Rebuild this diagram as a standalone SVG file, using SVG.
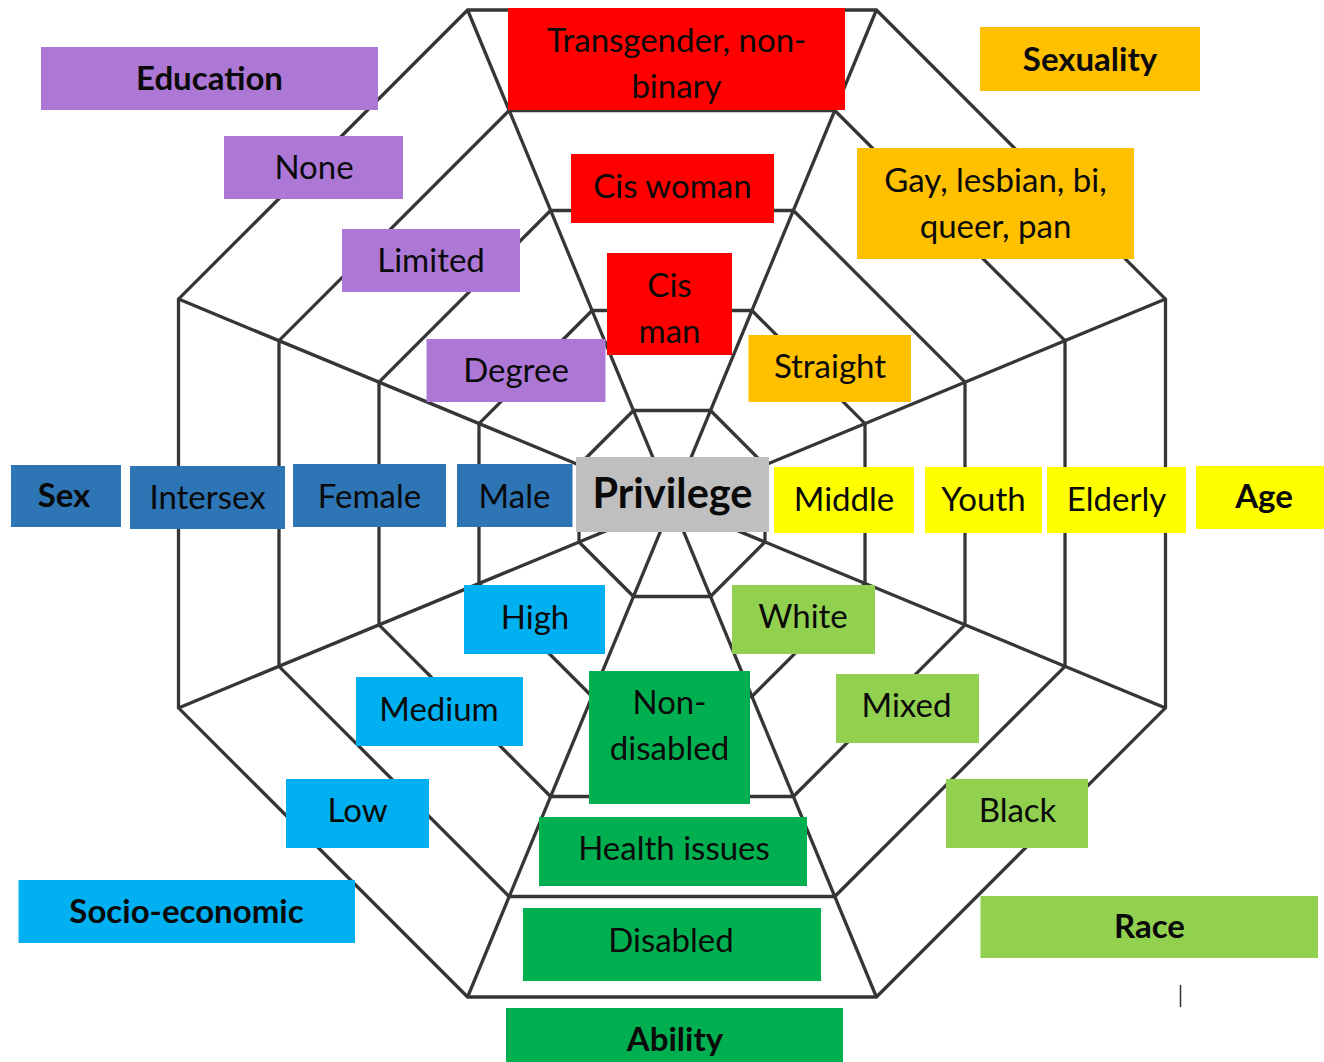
<svg xmlns="http://www.w3.org/2000/svg" width="1324" height="1062" viewBox="0 0 1324 1062">
  <style>
    .web { fill: none; stroke: #363636; stroke-width: 3.3; stroke-linejoin: miter; }
    .lbl { font-family: Lato, "Open Sans", "Liberation Sans", sans-serif; font-size: 33px; fill: #0a0a0a; text-anchor: middle; }
    .hd { font-weight: 700; }
    .edu { fill: #AD77D6; }
    .gen { fill: #FF0000; }
    .sexu { fill: #FFC000; }
    .sex { fill: #2E75B6; }
    .age { fill: #FFFF00; }
    .ses { fill: #00B0F0; }
    .race { fill: #92D050; }
    .abl { fill: #00B050; }
    .core { fill: #BFBFBF; }
  </style>
  <rect width="1324" height="1062" fill="#FFFFFF"/>

  <!-- concentric octagonal web and the four spokes through the centre -->
  <g id="connectors" class="web">
    <polygon points="633.5,410.5 710.5,410.5 765,465 765,542 710.5,596.5 633.5,596.5 579,542 579,465"/>
    <polygon points="592.1,310.5 751.9,310.5 865,423.6 865,583.4 751.9,696.5 592.1,696.5 479,583.4 479,423.6"/>
    <polygon points="550.6,210.5 793.4,210.5 965,382.1 965,624.9 793.4,796.5 550.6,796.5 379,624.9 379,382.1"/>
    <polygon points="509.2,110.5 834.8,110.5 1065,340.7 1065,666.3 834.8,896.5 509.2,896.5 279,666.3 279,340.7"/>
    <polygon points="467.6,10 876.4,10 1165.5,299.1 1165.5,707.9 876.4,997 467.6,997 178.5,707.9 178.5,299.1"/>
    <line x1="467.6" y1="10" x2="876.4" y2="997"/>
    <line x1="876.4" y1="10" x2="467.6" y2="997"/>
    <line x1="178.5" y1="299.1" x2="1165.5" y2="707.9"/>
    <line x1="178.5" y1="707.9" x2="1165.5" y2="299.1"/>
  </g>

  <!-- Education -->
  <g id="education">
    <rect class="edu" x="41" y="47" width="337" height="63"/>
    <text class="lbl hd" x="209.5" y="90">Education</text>
  </g>
  <g id="edu-none">
    <rect class="edu" x="224" y="136" width="179" height="63"/>
    <text class="lbl" x="314" y="179">None</text>
  </g>
  <g id="edu-limited">
    <rect class="edu" x="342" y="229" width="178" height="63"/>
    <text class="lbl" x="431" y="272">Limited</text>
  </g>
  <g id="edu-degree">
    <rect class="edu" x="426.5" y="339" width="179" height="63"/>
    <text class="lbl" x="516" y="382">Degree</text>
  </g>

  <!-- Gender -->
  <g id="gender-trans">
    <rect class="gen" x="508" y="8" width="337" height="102"/>
    <text class="lbl" x="676.5" y="52">Transgender, non-</text>
    <text class="lbl" x="676.5" y="98">binary</text>
  </g>
  <g id="gender-ciswoman">
    <rect class="gen" x="571" y="154" width="203" height="69"/>
    <text class="lbl" x="672.5" y="198">Cis woman</text>
  </g>
  <g id="gender-cisman">
    <rect class="gen" x="607" y="253" width="125" height="102"/>
    <text class="lbl" x="669.5" y="297">Cis</text>
    <text class="lbl" x="669.5" y="343">man</text>
  </g>

  <!-- Sexuality -->
  <g id="sexuality">
    <rect class="sexu" x="980" y="27" width="220" height="64"/>
    <text class="lbl hd" x="1090" y="71">Sexuality</text>
  </g>
  <g id="sexuality-lgbq">
    <rect class="sexu" x="857" y="148" width="277" height="111"/>
    <text class="lbl" x="995.5" y="192">Gay, lesbian, bi,</text>
    <text class="lbl" x="995.5" y="238">queer, pan</text>
  </g>
  <g id="sexuality-straight">
    <rect class="sexu" x="748.5" y="335" width="162.5" height="67"/>
    <text class="lbl" x="830" y="378">Straight</text>
  </g>

  <!-- Sex -->
  <g id="sex">
    <rect class="sex" x="11" y="465" width="110" height="62"/>
    <text class="lbl hd" x="64" y="507">Sex</text>
  </g>
  <g id="sex-intersex">
    <rect class="sex" x="130" y="466" width="155" height="63"/>
    <text class="lbl" x="207.5" y="509">Intersex</text>
  </g>
  <g id="sex-female">
    <rect class="sex" x="293" y="464" width="153" height="63"/>
    <text class="lbl" x="369.5" y="508">Female</text>
  </g>
  <g id="sex-male">
    <rect class="sex" x="457" y="464" width="115.5" height="63"/>
    <text class="lbl" x="514.5" y="508">Male</text>
  </g>

  <!-- Centre -->
  <g id="privilege">
    <rect class="core" x="576" y="457" width="193" height="75"/>
    <text class="lbl hd" x="672.5" y="508" style="font-size:41.5px">Privilege</text>
  </g>

  <!-- Age -->
  <g id="age-middle">
    <rect class="age" x="774" y="467" width="140" height="66"/>
    <text class="lbl" x="844" y="511">Middle</text>
  </g>
  <g id="age-youth">
    <rect class="age" x="925" y="467" width="117" height="66"/>
    <text class="lbl" x="983.5" y="511">Youth</text>
  </g>
  <g id="age-elderly">
    <rect class="age" x="1047" y="467" width="139" height="66"/>
    <text class="lbl" x="1116.5" y="511">Elderly</text>
  </g>
  <g id="age">
    <rect class="age" x="1196" y="466" width="128" height="63"/>
    <text class="lbl hd" x="1264" y="508">Age</text>
  </g>

  <!-- Socio-economic -->
  <g id="ses-high">
    <rect class="ses" x="464" y="585" width="141" height="69"/>
    <text class="lbl" x="535" y="629">High</text>
  </g>
  <g id="ses-medium">
    <rect class="ses" x="356" y="677" width="167" height="69"/>
    <text class="lbl" x="439" y="721">Medium</text>
  </g>
  <g id="ses-low">
    <rect class="ses" x="286" y="779" width="143" height="69"/>
    <text class="lbl" x="357.5" y="822">Low</text>
  </g>
  <g id="socio-economic">
    <rect class="ses" x="18.5" y="880" width="336.5" height="63"/>
    <text class="lbl hd" x="186.5" y="923">Socio-economic</text>
  </g>

  <!-- Race -->
  <g id="race-white">
    <rect class="race" x="732" y="585" width="143" height="69"/>
    <text class="lbl" x="803" y="628">White</text>
  </g>
  <g id="race-mixed">
    <rect class="race" x="836" y="674" width="143" height="69"/>
    <text class="lbl" x="906.5" y="717">Mixed</text>
  </g>
  <g id="race-black">
    <rect class="race" x="946" y="779" width="142" height="69"/>
    <text class="lbl" x="1017.5" y="822">Black</text>
  </g>
  <g id="race">
    <rect class="race" x="980.5" y="896" width="337.5" height="62"/>
    <text class="lbl hd" x="1149.5" y="938">Race</text>
  </g>

  <!-- Ability -->
  <g id="ability-nondisabled">
    <rect class="abl" x="589" y="671" width="161" height="133"/>
    <text class="lbl" x="669.5" y="714">Non-</text>
    <text class="lbl" x="669.5" y="760">disabled</text>
  </g>
  <g id="ability-health">
    <rect class="abl" x="539" y="817" width="268" height="69"/>
    <text class="lbl" x="674" y="860">Health issues</text>
  </g>
  <g id="ability-disabled">
    <rect class="abl" x="523" y="908" width="298" height="73"/>
    <text class="lbl" x="671" y="952">Disabled</text>
  </g>
  <g id="ability">
    <rect class="abl" x="506" y="1008" width="337" height="54"/>
    <text class="lbl hd" x="675" y="1051">Ability</text>
  </g>

  <!-- text cursor mark below the Race label -->
  <line x1="1180.5" y1="985" x2="1180.5" y2="1007" stroke="#333" stroke-width="1.5"/>
</svg>
